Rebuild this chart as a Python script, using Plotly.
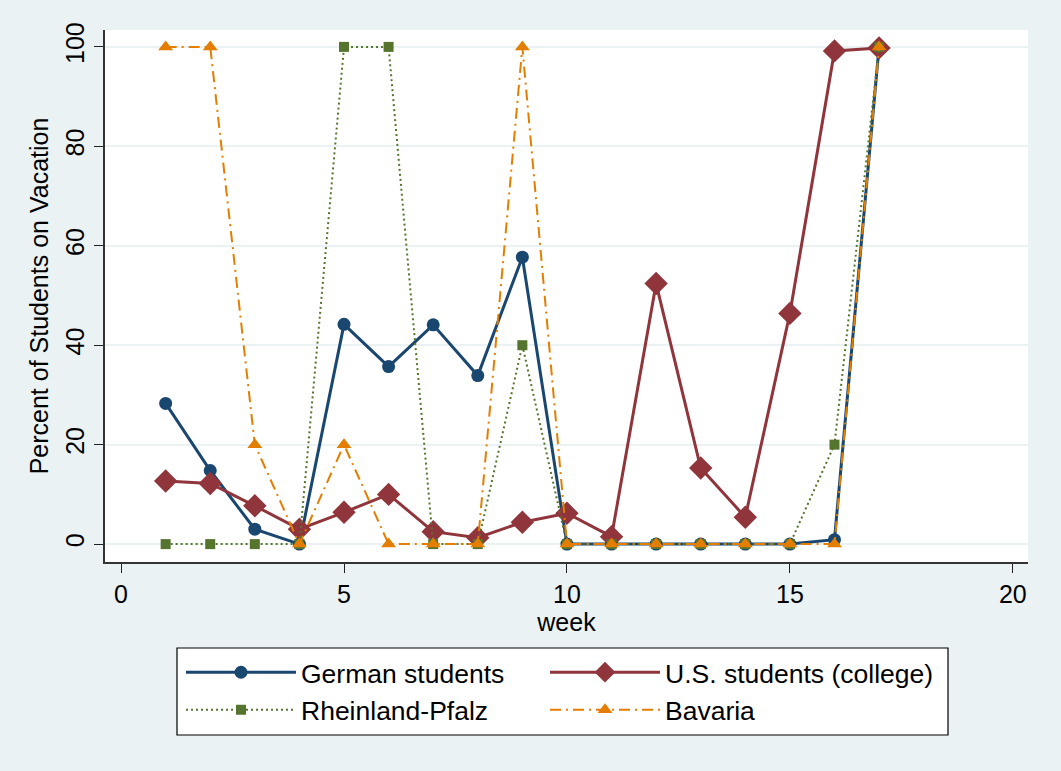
import plotly.graph_objects as go

weeks = list(range(1, 18))
german = [28.3, 14.8, 3.0, 0, 44.2, 35.7, 44.1, 33.9, 57.7, 0, 0, 0, 0, 0, 0, 0.9, 100]
us = [12.7, 12.2, 7.7, 3.0, 6.4, 10.0, 2.5, 1.3, 4.4, 6.2, 1.5, 52.4, 15.3, 5.4, 46.4, 99.2, 99.8]
rheinland = [0, 0, 0, 0, 100, 100, 0, 0, 40, 0, 0, 0, 0, 0, 0, 20, 100]
bavaria = [100, 100, 20, 0, 20, 0, 0, 0, 100, 0, 0, 0, 0, 0, 0, 0, 100]

names = ["German students", "U.S. students (college)", "Rheinland-Pfalz", "Bavaria"]
x_ticks = [0, 5, 10, 15, 20]
y_ticks = [0, 20, 40, 60, 80, 100]

FONT = "Liberation Sans, Arial, sans-serif"
BG = "#EAF2F3"
FS = 25

# layout geometry (pixels)
W, H = 1061, 771
ML, MR, MT, MB = 105, 33, 30, 209
PW, PH = W - ML - MR, H - MT - MB


def px_x(p):
    return (p - ML) / PW


def px_y(p):
    return (H - MB - p) / PH


fig = go.Figure()
fig.add_trace(go.Scatter(x=weeks, y=german, name=names[0], mode="lines+markers", legend="legend",
                         line=dict(color="#1A476F", width=3),
                         marker=dict(symbol="circle", size=13, color="#1A476F")))
fig.add_trace(go.Scatter(x=weeks, y=us, name=names[1], mode="lines+markers", legend="legend2",
                         line=dict(color="#90353B", width=3),
                         marker=dict(symbol="diamond", size=18, color="#90353B")))
fig.add_trace(go.Scatter(x=weeks, y=rheinland, name=names[2], mode="lines+markers", legend="legend",
                         line=dict(color="#55752F", width=2, dash="2px,3px"),
                         marker=dict(symbol="square", size=10, color="#55752F")))
fig.add_trace(go.Scatter(x=weeks, y=bavaria, name=names[3], mode="lines+markers", legend="legend2",
                         line=dict(color="#E37E00", width=2, dash="11px,5px,2px,5px"),
                         marker=dict(symbol="triangle-up", size=13, color="#E37E00")))

# legend frame
fig.add_shape(type="rect", xref="paper", yref="paper",
              x0=px_x(177), x1=px_x(948), y0=px_y(735), y1=px_y(648),
              fillcolor="white", line=dict(color="black", width=1.2), layer="below")

leg_common = dict(orientation="v", yanchor="top", xanchor="left",
                  bgcolor="rgba(0,0,0,0)", borderwidth=0, itemwidth=110,
                  font=dict(size=26.5), traceorder="normal")

fig.update_layout(
    width=W, height=H,
    paper_bgcolor=BG, plot_bgcolor="white",
    margin=dict(l=ML, r=MR, t=MT, b=MB),
    font=dict(family=FONT, size=FS, color="black"),
    xaxis=dict(range=[-0.36, 20.34], tickvals=x_ticks, ticks="outside", ticklen=9,
               tickcolor="#222", tickwidth=1.3, showgrid=False, zeroline=False,
               showline=True, linecolor="#333", linewidth=1.5,
               title=dict(text="week", standoff=0, font=dict(size=FS)),
               tickfont=dict(size=FS)),
    yaxis=dict(range=[-3.6, 103.4], tickvals=y_ticks, ticks="outside", ticklen=9,
               tickcolor="#222", tickwidth=1.3, showgrid=True, gridcolor=BG, gridwidth=1.5,
               zeroline=False, showline=True, linecolor="#333", linewidth=1.5,
               tickangle=-90, tickfont=dict(size=FS),
               title=dict(text="Percent of Students on Vacation", standoff=6, font=dict(size=FS))),
    legend=dict(x=px_x(181), y=px_y(648.5), **leg_common),
    legend2=dict(x=px_x(545), y=px_y(648.5), **leg_common),
    showlegend=True,
)

fig.write_html("out.html", config={"displayModeBar": False},
               post_script="document.body.style.margin='0';document.body.style.overflow='hidden';")
